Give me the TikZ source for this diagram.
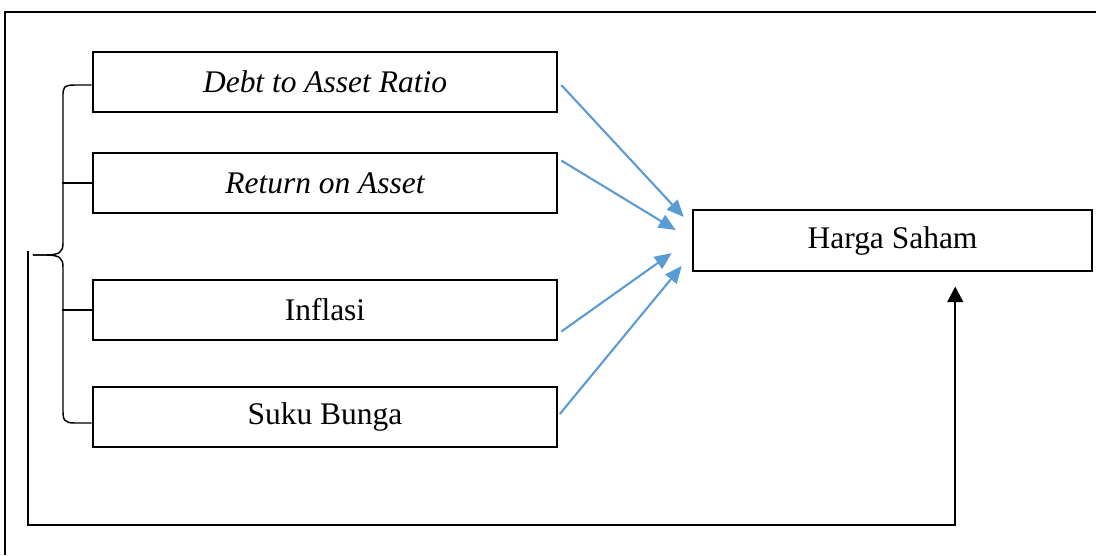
\documentclass[tikz,border=0pt]{standalone}
\usepackage{fontspec}
\setmainfont{Liberation Serif}
\usepackage{tikz}
\usetikzlibrary{arrows.meta, positioning, calc}

\definecolor{linkblue}{RGB}{91,155,213}

\begin{document}
\begin{tikzpicture}[font=\fontsize{12}{14}\selectfont]
        \tikzstyle{varbox} = [rectangle, minimum width=6.22cm, minimum height=0.80cm, text centered, draw=black, line width=0.9pt]
        \tikzstyle{resbox} = [rectangle, minimum width=5.35cm, minimum height=0.82cm, text centered, draw=black, line width=0.9pt]
        \tikzstyle{arrow} = [line width=0.8pt, draw=linkblue, -{Triangle[length=6.5pt, width=5.5pt]}, linkblue]
        \tikzstyle{backline} = [line width=0.9pt, -{Triangle[length=6pt, width=6pt]}]
        \tikzstyle{bracel} = [line width=0.55pt]

        \useasboundingbox (0,0) rectangle (14.686,-7.437);

        % frame
        \draw [line width=1pt] (0.067,-7.437) -- (0.067,-0.161) -- (14.686,-0.161);

        \node (dar) [varbox] at (4.355,-1.099) {\itshape Debt to Asset Ratio};
        \node (roa) [varbox, below=0.52cm of dar] {\itshape Return on Asset};
        \node (inf) [varbox, below=0.871cm of roa] {Inflasi};
        \node (sb) [varbox, below=0.603cm of inf] {Suku Bunga};
        \node (harga) [resbox] at (11.96,-3.223) {Harga Saham};

        % brace over the four variables
        \draw [bracel] (dar.west |- 0,-1.139) -- (1.005,-1.139) .. controls (0.844,-1.139) and (0.844,-1.179) .. (0.844,-1.300)
            -- (0.844,-3.256) .. controls (0.844,-3.377) and (0.804,-3.417) .. (0.603,-3.417) -- (0.442,-3.417);
        \draw [bracel] (0.442,-3.417) -- (0.603,-3.417) .. controls (0.804,-3.417) and (0.844,-3.457) .. (0.844,-3.578)
            -- (0.844,-5.494) .. controls (0.844,-5.628) and (0.857,-5.668) .. (1.005,-5.668) -- (sb.west |- 0,-5.668);
        \draw [bracel] (roa.west) -- ++(-0.40,0);
        \draw [bracel] (inf.west) -- ++(-0.40,0);

        \coordinate (tip) at (0.375,-3.363);

        \draw [arrow] ([xshift=0.04cm,yshift=-0.04cm]dar.east) -- ([xshift=-0.107cm,yshift=0.315cm]harga.west);
        \draw [arrow] ([xshift=0.04cm,yshift=0.30cm]roa.east) -- ([xshift=-0.214cm,yshift=0.14cm]harga.west);
        \draw [arrow] ([xshift=0.04cm,yshift=-0.29cm]inf.east) -- ([xshift=-0.268cm,yshift=-0.168cm]harga.west);
        \draw [arrow] ([xshift=0.02cm,yshift=0.04cm]sb.east) -- ([xshift=-0.134cm,yshift=-0.342cm]harga.west);

        \draw [backline] (tip) -- ++(0,-3.672) -| ([xshift=0.84cm,yshift=-0.19cm]harga.south);
    \end{tikzpicture}
\end{document}
